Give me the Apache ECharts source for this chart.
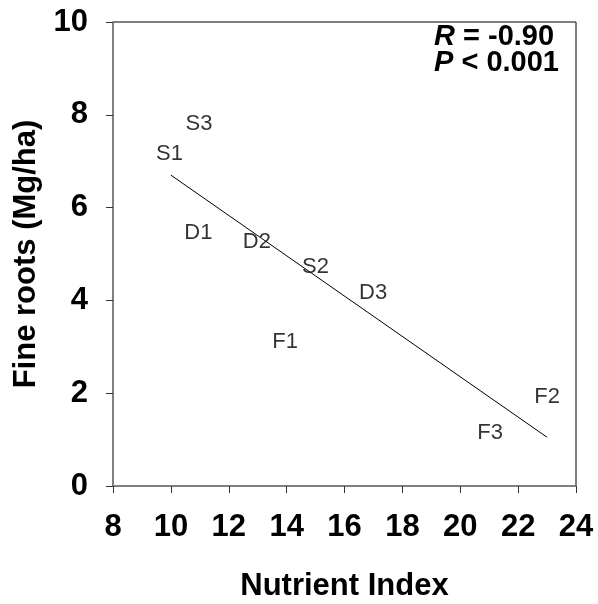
<!DOCTYPE html>
<html>
<head>
<meta charset="utf-8">
<script src="https://cdn.jsdelivr.net/npm/echarts@6/dist/echarts.min.js"></script>
<style>
  html, body { margin: 0; padding: 0; background: #fff; }
  #myChart { width: 598px; height: 604px; }
</style>
</head>
<body>
<div id="myChart"></div>
<script>
// site labels and their positions
var siteNames = ['S1', 'S3', 'D1', 'D2', 'S2', 'D3', 'F1', 'F2', 'F3'];
var nutrientIndex = [9.95, 10.97, 10.95, 12.97, 15.0, 16.99, 13.95, 23.0, 21.03];
var fineRoots = [7.16, 7.81, 5.46, 5.25, 4.73, 4.17, 3.11, 1.91, 1.14];

// regression line ends
var fitX = [10, 23];
var fitY = [6.70, 1.05];

var xTicks = [8, 10, 12, 14, 16, 18, 20, 22, 24];
var yTicks = [0, 2, 4, 6, 8, 10];

var myChart = echarts.init(document.getElementById('myChart'));

var points = siteNames.map(function (n, i) {
  return { name: n, value: [nutrientIndex[i], fineRoots[i]] };
});
var fitLine = fitX.map(function (x, i) { return [x, fitY[i]]; });

var axisFont = { fontFamily: 'Liberation Sans, Arial, sans-serif', fontWeight: 'bold', fontSize: 31, color: '#000' };

var option = {
  animation: false,
  backgroundColor: '#fff',
  grid: {
    left: 113, top: 22, right: 22, bottom: 118,
    outerBoundsMode: 'none', containLabel: false,
    show: true, borderColor: '#000', borderWidth: 1, backgroundColor: 'transparent'
  },
  xAxis: {
    type: 'value', min: xTicks[0], max: xTicks[xTicks.length - 1], interval: 2,
    name: 'Nutrient Index', nameLocation: 'middle', nameGap: 85,
    nameTextStyle: axisFont,
    axisLine: { show: true, lineStyle: { color: '#808080', width: 1.5 } },
    axisTick: { show: true, inside: false, length: 7, lineStyle: { color: '#333', width: 1 } },
    axisLabel: Object.assign({ margin: 26 }, axisFont),
    splitLine: { show: false }
  },
  yAxis: {
    type: 'value', min: yTicks[0], max: yTicks[yTicks.length - 1], interval: 2,
    name: 'Fine roots (Mg/ha)', nameLocation: 'middle', nameGap: 71,
    nameTextStyle: axisFont,
    axisLine: { show: true, lineStyle: { color: '#808080', width: 1.5 } },
    axisTick: { show: true, inside: false, length: 7, lineStyle: { color: '#333', width: 1 } },
    axisLabel: Object.assign({ margin: 25 }, axisFont),
    splitLine: { show: false }
  },
  graphic: [{
    type: 'text', right: 39, top: 22,
    style: {
      text: '{i|R} = -0.90\n{i|P} < 0.001',
      font: 'bold 29px "Liberation Sans", Arial, sans-serif',
      fill: '#000', align: 'right', lineHeight: 26,
      rich: {
        i: { fontStyle: 'italic', fontWeight: 'bold', fontSize: 29, fontFamily: 'Liberation Sans, Arial, sans-serif', lineHeight: 26 }
      }
    }
  }],
  series: [{
    type: 'line',
    data: fitLine,
    symbol: 'none',
    lineStyle: { color: '#000', width: 1 },
    z: 2
  }, {
    type: 'scatter',
    data: points,
    symbolSize: 1,
    itemStyle: { color: 'transparent' },
    label: {
      show: true, position: 'inside',
      formatter: function (p) { return p.name; },
      fontFamily: 'Liberation Sans, Arial, sans-serif', fontSize: 22, color: '#000'
    },
    z: 3
  }]
};

myChart.setOption(option);
</script>
</body>
</html>
